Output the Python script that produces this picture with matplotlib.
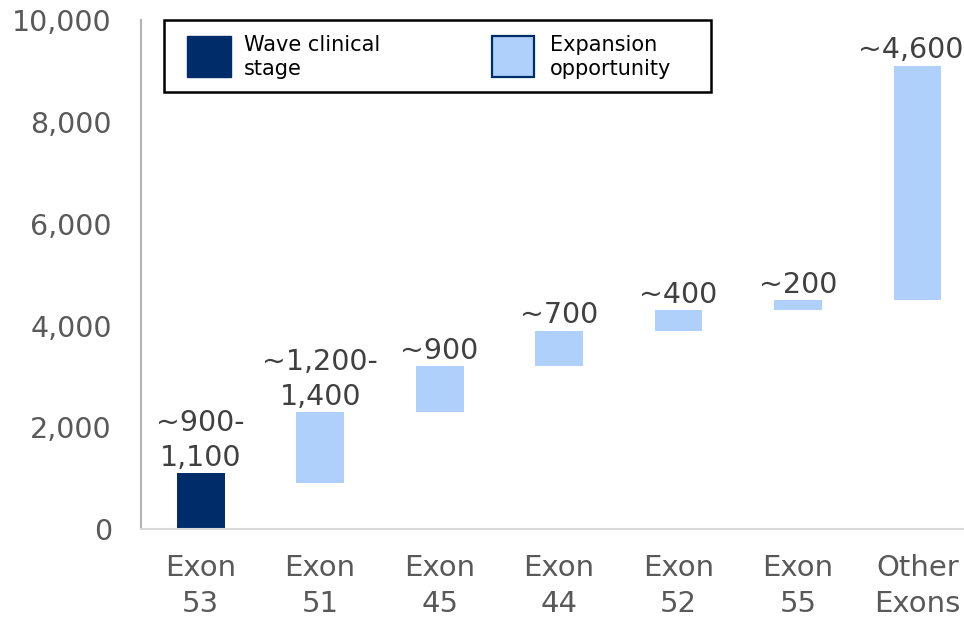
import matplotlib
matplotlib.use("Agg")
import matplotlib.pyplot as plt
from matplotlib.patches import Rectangle

# Patient counts by exon (waterfall: each bar starts where the cumulative total sits)
categories = ["Exon\n53", "Exon\n51", "Exon\n45", "Exon\n44", "Exon\n52", "Exon\n55", "Other\nExons"]
bar_bottoms = [0, 900, 2300, 3200, 3900, 4300, 4500]
bar_heights = [1100, 1400, 900, 700, 400, 200, 4600]
value_labels = ["~900-\n1,100", "~1,200-\n1,400", "~900", "~700", "~400", "~200", "~4,600"]
is_clinical = [True, False, False, False, False, False, False]
y_ticks = [0, 2000, 4000, 6000, 8000, 10000]
legend_labels = ["Wave clinical\nstage", "Expansion\nopportunity"]

NAVY = "#002d6a"
LIGHT = "#aed0fb"
TICK_GREY = "#595959"
LABEL_GREY = "#404040"

plt.rcParams["font.family"] = ["DejaVu Sans"]

W, H = 964, 617
fig = plt.figure(figsize=(W / 100, H / 100), dpi=100)

def fx(px):
    return px / W

def fy(py):
    return 1 - py / H

ax = fig.add_axes([fx(141), fy(529.3), fx(964) - fx(141), fy(20) - fy(529.3)])

x = list(range(len(categories)))
colors = [NAVY if c else LIGHT for c in is_clinical]
ax.bar(x, bar_heights, bottom=bar_bottoms, width=0.40, color=colors, linewidth=0)

for i, (xi, b, h, lab) in enumerate(zip(x, bar_bottoms, bar_heights, value_labels)):
    # keep the last label inside the right edge of the figure
    dx = -5 if i == len(x) - 1 else 0
    ax.annotate(lab, (xi, b + h), xytext=(dx, 1), textcoords="offset points",
                ha="center", va="bottom", fontsize=20.5, color=LABEL_GREY,
                linespacing=1.3, annotation_clip=False)

ax.set_xlim(-0.5, 6.39)
ax.set_ylim(0, 10000)
ax.set_yticks(y_ticks)
ax.set_yticklabels([f"{v:,}" for v in y_ticks])
ax.set_xticks(x)
ax.set_xticklabels(categories, linespacing=1.35)
ax.tick_params(axis="y", length=0, pad=21, labelsize=20.5, labelcolor=TICK_GREY)
ax.tick_params(axis="x", length=0, pad=18, labelsize=21, labelcolor=TICK_GREY)

for side in ("top", "right"):
    ax.spines[side].set_visible(False)
ax.spines["left"].set_color("#b3b3b3")
ax.spines["left"].set_linewidth(1.5)
ax.spines["bottom"].set_color("#d9d9d9")
ax.spines["bottom"].set_linewidth(1.5)

# Legend box drawn in figure coordinates
box = Rectangle((fx(164), fy(92)), fx(711) - fx(164), fy(20) - fy(92),
                transform=fig.transFigure, facecolor="white", edgecolor="black",
                linewidth=1.8, zorder=5)
fig.add_artist(box)
sw1 = Rectangle((fx(187), fy(77)), fx(231) - fx(187), fy(36) - fy(77),
                transform=fig.transFigure, facecolor=NAVY, edgecolor=NAVY,
                linewidth=1, zorder=6)
fig.add_artist(sw1)
sw2 = Rectangle((fx(492), fy(76.5)), fx(534) - fx(492), fy(35.5) - fy(76.5),
                transform=fig.transFigure, facecolor=LIGHT, edgecolor=NAVY,
                linewidth=1.6, zorder=6)
fig.add_artist(sw2)
fig.text(fx(244), fy(57), legend_labels[0], fontsize=15, color="black",
         va="center", ha="left", linespacing=1.3, zorder=7)
fig.text(fx(550), fy(57), legend_labels[1], fontsize=15, color="black",
         va="center", ha="left", linespacing=1.3, zorder=7)

fig.savefig("out.png", dpi=100)
